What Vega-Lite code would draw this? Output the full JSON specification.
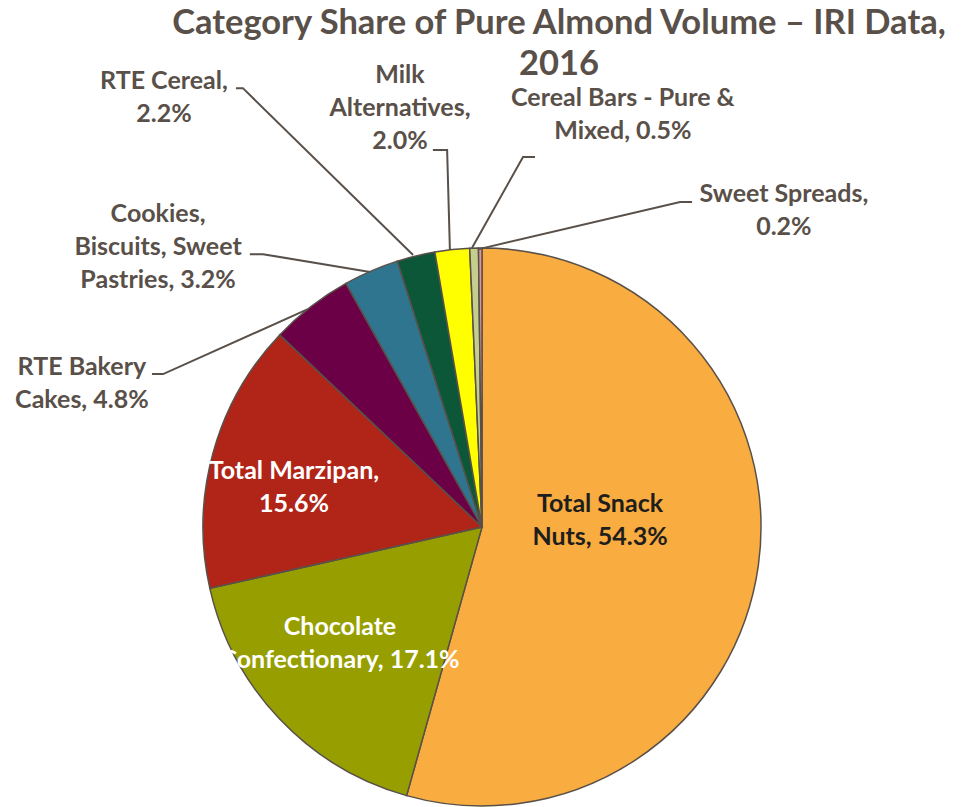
{
  "$schema": "https://vega.github.io/schema/vega-lite/v6.json",
  "width": 958,
  "height": 560,
  "autosize": {"type": "none"},
  "padding": {"left": 3, "top": 247, "right": 0, "bottom": 0},
  "background": "white",
  "config": {"view": {"stroke": null}},
  "title": {
    "text": ["Category Share of Pure Almond Volume – IRI Data,", "2016"],
    "font": "Lato",
    "fontSize": 34.5,
    "fontWeight": "bold",
    "color": "#595049",
    "anchor": "middle",
    "frame": "group",
    "dx": 77,
    "offset": -19,
    "lineHeight": 41
  },
  "datasets": {
    "shares": [
      {"idx": 1, "name": "Total Snack Nuts", "value": 54.3, "label": "Total Snack\nNuts, 54.3%", "lx": 0.423, "ly": 0.084},
      {"idx": 2, "name": "Chocolate Confectionary", "value": 17.1, "label": "Chocolate\nConfectionary, 17.1%", "lx": -0.509, "ly": -0.36},
      {"idx": 3, "name": "Total Marzipan", "value": 15.6, "label": "Total Marzipan,\n15.6%", "lx": -0.674, "ly": 0.202},
      {"idx": 4, "name": "RTE Bakery Cakes", "value": 4.8, "label": "RTE Bakery\nCakes, 4.8%", "lx": -1.434, "ly": 0.572},
      {"idx": 5, "name": "Cookies, Biscuits, Sweet Pastries", "value": 3.2, "label": "Cookies,\nBiscuits, Sweet\nPastries, 3.2%", "lx": -1.161, "ly": 1.122},
      {"idx": 6, "name": "RTE Cereal", "value": 2.2, "label": "RTE Cereal,\n2.2%", "lx": -1.14, "ly": 1.6},
      {"idx": 7, "name": "Milk Alternatives", "value": 2.0, "label": "Milk\nAlternatives,\n2.0%", "lx": -0.294, "ly": 1.62},
      {"idx": 8, "name": "Cereal Bars - Pure & Mixed", "value": 0.5, "label": "Cereal Bars - Pure &\nMixed, 0.5%", "lx": 0.505, "ly": 1.539},
      {"idx": 9, "name": "Sweet Spreads", "value": 0.2, "label": "Sweet Spreads,\n0.2%", "lx": 1.082, "ly": 1.192}
    ],
    "leaders": [
      {"name": "RTE Cereal", "pt": 1, "x": -0.882, "y": 1.573},
      {"name": "RTE Cereal", "pt": 2, "x": -0.857, "y": 1.573},
      {"name": "RTE Cereal", "pt": 3, "x": -0.247, "y": 0.975},
      {"name": "Milk Alternatives", "pt": 1, "x": -0.176, "y": 1.351},
      {"name": "Milk Alternatives", "pt": 2, "x": -0.125, "y": 1.351},
      {"name": "Milk Alternatives", "pt": 3, "x": -0.115, "y": 0.993},
      {"name": "Cereal Bars - Pure & Mixed", "pt": 1, "x": 0.19, "y": 1.326},
      {"name": "Cereal Bars - Pure & Mixed", "pt": 2, "x": 0.147, "y": 1.326},
      {"name": "Cereal Bars - Pure & Mixed", "pt": 3, "x": -0.036, "y": 1.0},
      {"name": "Sweet Spreads", "pt": 1, "x": 0.753, "y": 1.165},
      {"name": "Sweet Spreads", "pt": 2, "x": 0.71, "y": 1.165},
      {"name": "Sweet Spreads", "pt": 3, "x": -0.011, "y": 0.996},
      {"name": "Cookies, Biscuits, Sweet Pastries", "pt": 1, "x": -0.832, "y": 0.978},
      {"name": "Cookies, Biscuits, Sweet Pastries", "pt": 2, "x": -0.785, "y": 0.978},
      {"name": "Cookies, Biscuits, Sweet Pastries", "pt": 3, "x": -0.401, "y": 0.914},
      {"name": "RTE Bakery Cakes", "pt": 1, "x": -1.183, "y": 0.548},
      {"name": "RTE Bakery Cakes", "pt": 2, "x": -1.143, "y": 0.548},
      {"name": "RTE Bakery Cakes", "pt": 3, "x": -0.624, "y": 0.781}
    ]
  },
  "layer": [
    {
      "data": {"name": "shares"},
      "mark": {"type": "arc", "outerRadius": 279, "stroke": "#595049", "strokeWidth": 1.5},
      "encoding": {
        "theta": {"field": "value", "type": "quantitative", "stack": true},
        "order": {"field": "idx", "type": "quantitative"},
        "color": {
          "field": "name",
          "type": "nominal",
          "legend": null,
          "scale": {
            "domain": ["Total Snack Nuts", "Chocolate Confectionary", "Total Marzipan", "RTE Bakery Cakes", "Cookies, Biscuits, Sweet Pastries", "RTE Cereal", "Milk Alternatives", "Cereal Bars - Pure & Mixed", "Sweet Spreads"],
            "range": ["#F9AC3F", "#979F00", "#B12518", "#6B0046", "#2F7590", "#0B5738", "#FFFF00", "#C4CF8E", "#E39497"]
          }
        }
      }
    },
    {
      "data": {"name": "leaders"},
      "mark": {"type": "line", "color": "#595049", "strokeWidth": 2},
      "encoding": {
        "x": {"field": "x", "type": "quantitative", "axis": null, "scale": {"domain": [-1.7168, 1.7168], "nice": false, "zero": false}},
        "y": {"field": "y", "type": "quantitative", "axis": null, "scale": {"domain": [-1.0036, 1.0036], "nice": false, "zero": false}},
        "detail": {"field": "name", "type": "nominal"},
        "order": {"field": "pt", "type": "quantitative"}
      }
    },
    {
      "data": {"name": "shares"},
      "transform": [{"filter": {"field": "name", "oneOf": ["RTE Bakery Cakes", "Cookies, Biscuits, Sweet Pastries", "RTE Cereal", "Milk Alternatives", "Cereal Bars - Pure & Mixed", "Sweet Spreads"]}}],
      "mark": {"type": "text", "font": "Lato", "fontWeight": "bold", "fontSize": 25, "lineHeight": 33, "lineBreak": "\n", "align": "center", "baseline": "middle", "color": "#595049"},
      "encoding": {
        "x": {"field": "lx", "type": "quantitative"},
        "y": {"field": "ly", "type": "quantitative"},
        "text": {"field": "label", "type": "nominal"}
      }
    },
    {
      "data": {"name": "shares"},
      "transform": [{"filter": {"field": "name", "oneOf": ["Chocolate Confectionary", "Total Marzipan"]}}],
      "mark": {"type": "text", "font": "Lato", "fontWeight": "bold", "fontSize": 25, "lineHeight": 33, "lineBreak": "\n", "align": "center", "baseline": "middle", "color": "#FFFFFF"},
      "encoding": {
        "x": {"field": "lx", "type": "quantitative"},
        "y": {"field": "ly", "type": "quantitative"},
        "text": {"field": "label", "type": "nominal"}
      }
    },
    {
      "data": {"name": "shares"},
      "transform": [{"filter": {"field": "name", "oneOf": ["Total Snack Nuts"]}}],
      "mark": {"type": "text", "font": "Lato", "fontWeight": "bold", "fontSize": 25, "lineHeight": 33, "lineBreak": "\n", "align": "center", "baseline": "middle", "color": "#1E1E1E"},
      "encoding": {
        "x": {"field": "lx", "type": "quantitative"},
        "y": {"field": "ly", "type": "quantitative"},
        "text": {"field": "label", "type": "nominal"}
      }
    }
  ]
}
